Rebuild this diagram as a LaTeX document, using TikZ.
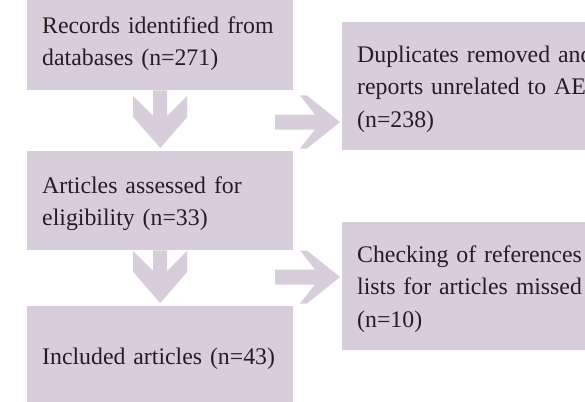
\documentclass[tikz,border=0pt]{standalone}
\usepackage{fontspec}
\setmainfont{Liberation Serif}
\usetikzlibrary{calc}
\definecolor{boxfill}{RGB}{216,205,219}
\definecolor{ink}{RGB}{35,31,32}
\begin{document}
\begin{tikzpicture}[x=1pt,y=-1pt,
  box/.style={anchor=north west, fill=boxfill, inner xsep=15pt, inner ysep=0pt,
    minimum width=266pt, text width=236pt, align=left, text=ink,
    font=\fontsize{23.8}{32.5}\selectfont,
    execute at begin node={\rule{0pt}{25pt}},
    execute at end node={\rule[-7.5pt]{0pt}{7.5pt}}},
  leftbox/.style={box, minimum height=99pt},
  rightbox/.style={box, minimum height=128pt},
  flow/.style={fill=boxfill}]
\useasboundingbox (0,0) rectangle (585,401);
\clip (0,0) rectangle (585,401);

\node[leftbox] (b1) at (27,-9) {Records identified from\\databases (n=271)};
\node[leftbox] (b2) at (27,151) {Articles assessed for\\eligibility (n=33)};
\node[leftbox] (b3) at (27,306) {Included articles (n=43)};
\node[rightbox] (r1) at (342,22) {Duplicates removed and\\reports unrelated to AE\\(n=238)};
\node[rightbox] (r2) at (342,222) {Checking of references\\lists for articles missed\\(n=10)};

% down arrows
\coordinate (t1) at ($(b2.north)+(0,-3)$);
\coordinate (t2) at ($(b3.north)+(0,-3)$);
\fill[flow] ($(b1.south)+(-7,0)$) -- ($(t1)+(-7,-32)$) -- ($(t1)+(-27,-52)$) -- ($(t1)+(-27,-31)$)
  -- (t1) -- ($(t1)+(27,-31)$) -- ($(t1)+(27,-52)$) -- ($(t1)+(7,-32)$) -- ($(b1.south)+(7,0)$) -- cycle;
\fill[flow] ($(b2.south)+(-7,0)$) -- ($(t2)+(-7,-32)$) -- ($(t2)+(-27,-52)$) -- ($(t2)+(-27,-31)$)
  -- (t2) -- ($(t2)+(27,-31)$) -- ($(t2)+(27,-52)$) -- ($(t2)+(7,-32)$) -- ($(b2.south)+(7,0)$) -- cycle;

% right arrows
\coordinate (s1) at ($(t1)+(0,-26)$);
\coordinate (s2) at ($(t2)+(0,-26)$);
\coordinate (R1) at ($(r1.west |- s1)+(-2,0)$);
\coordinate (R2) at ($(r2.west |- s2)+(-2,0)$);
\foreach \R in {R1,R2}{
\fill[flow] ($(\R)+(-65,-7.5)$) -- ($(\R)+(-25,-7.5)$) -- ($(\R)+(-40,-26.5)$) -- ($(\R)+(-33,-26.5)$)
  -- (\R) -- ($(\R)+(-33,26.5)$) -- ($(\R)+(-40,26.5)$) -- ($(\R)+(-25,7.5)$) -- ($(\R)+(-65,7.5)$) -- cycle;
}
\end{tikzpicture}
\end{document}
